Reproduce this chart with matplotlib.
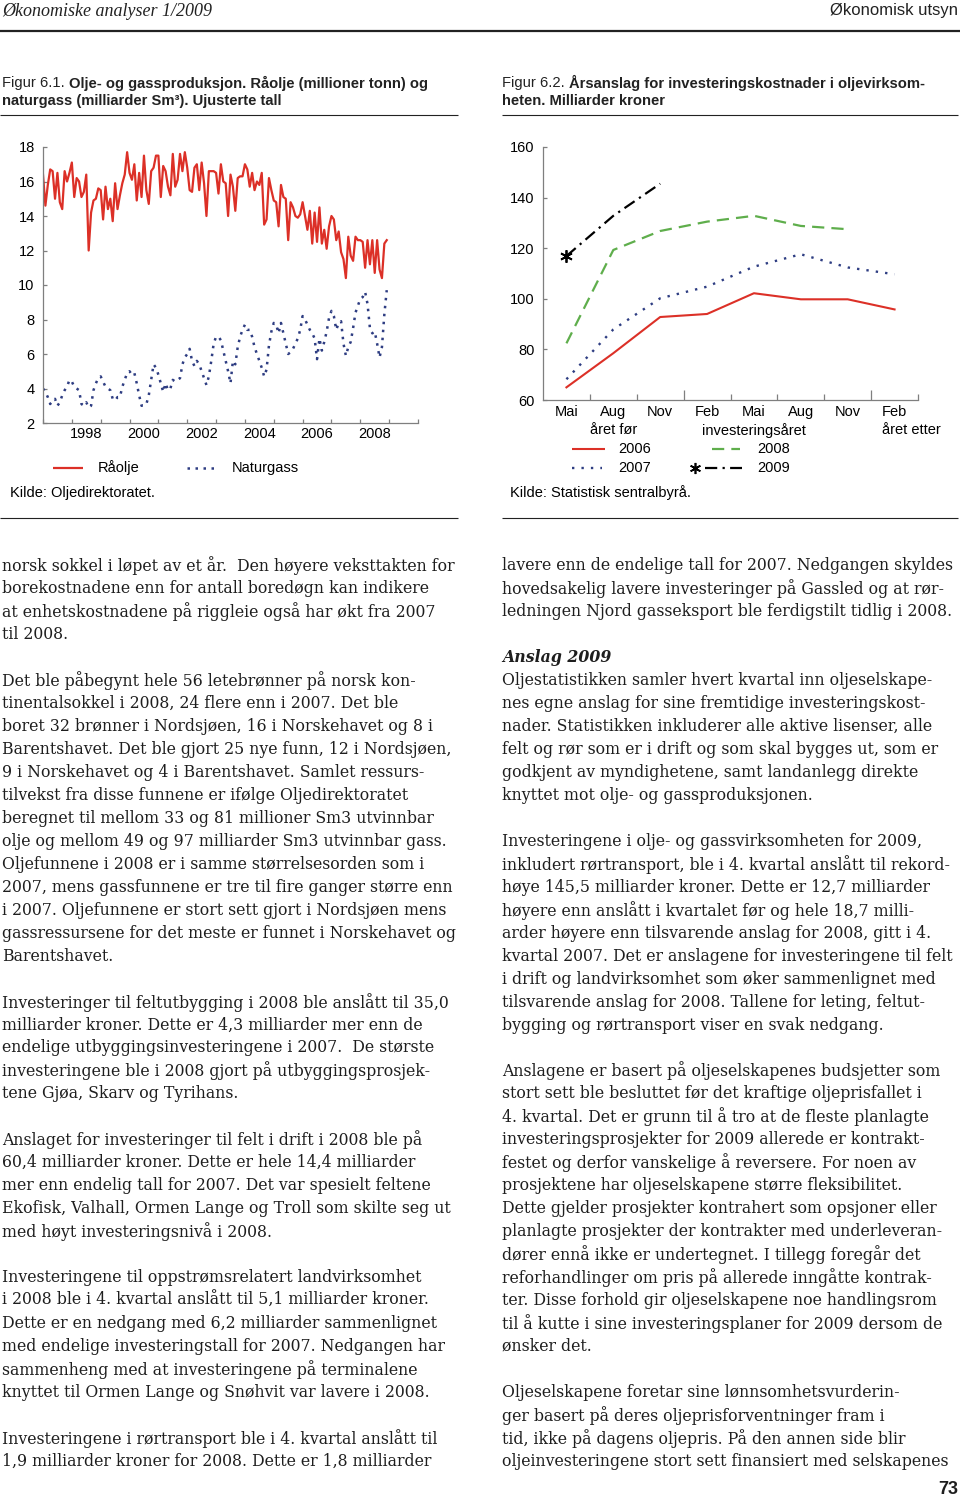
import matplotlib
matplotlib.use('Agg')
import matplotlib.pyplot as plt
from matplotlib.lines import Line2D
import numpy as np

# --- Figur 6.1: monthly production, Jan 1997 - Dec 2008 ---
# Råolje (million tonn), one row per year
raolje = [
    16.4, 14.6, 15.8, 16.7, 16.6, 15.0, 16.5, 14.8, 14.4, 16.6, 16.0, 16.5,  # 1997
    17.1, 15.1, 16.2, 16.0, 15.1, 15.4, 16.4, 12.0, 14.2, 14.9, 15.0, 15.6,  # 1998
    15.5, 13.8, 15.7, 14.4, 15.0, 13.7, 15.9, 14.4, 15.2, 15.9, 16.4, 17.7,  # 1999
    16.5, 16.1, 17.0, 14.9, 16.5, 15.1, 17.5, 15.5, 14.7, 16.6, 16.8, 17.5,  # 2000
    17.5, 15.1, 16.9, 16.6, 15.7, 15.2, 17.6, 15.7, 16.1, 17.6, 16.6, 17.7,  # 2001
    16.8, 15.5, 15.4, 16.8, 17.0, 15.5, 17.1, 15.9, 14.0, 16.6, 16.6, 16.6,  # 2002
    16.5, 15.3, 17.0, 16.0, 15.9, 14.0, 16.4, 15.7, 14.3, 16.2, 16.3, 16.3,  # 2003
    17.0, 16.7, 15.7, 16.5, 15.5, 16.0, 15.8, 16.5, 13.5, 13.8, 16.2, 15.5,  # 2004
    14.9, 14.8, 13.4, 15.8, 15.1, 15.0, 12.6, 14.8, 14.5, 14.0, 13.9, 14.1,  # 2005
    14.8, 14.0, 13.2, 14.3, 12.4, 14.2, 12.5, 14.5, 12.4, 13.2, 12.1, 13.4,  # 2006
    14.0, 13.8, 12.6, 13.1, 11.9, 11.5, 10.4, 12.8, 11.7, 11.4, 12.8, 12.6,  # 2007
    12.6, 12.5, 11.0, 12.6, 11.2, 12.6, 10.7, 12.6, 10.9, 10.4, 12.4, 12.6,  # 2008
]
# Naturgass (milliarder Sm3)
naturgass = [
    4.0, 3.8, 3.5, 3.1, 3.3, 3.4, 3.0, 3.2, 3.6, 3.9, 4.1, 4.5,  # 1997
    4.4, 4.1, 4.0, 3.9, 3.1, 3.0, 3.2, 2.9, 3.0, 3.9, 4.3, 4.6,  # 1998
    4.7, 4.4, 4.1, 4.0, 3.9, 3.4, 3.3, 3.5, 3.5, 4.1, 4.5, 4.9,  # 1999
    5.0, 4.8, 4.9, 4.3, 3.6, 3.0, 3.0, 3.1, 3.6, 4.5, 5.4, 5.2,  # 2000
    4.8, 4.3, 3.8, 4.3, 3.9, 4.0, 4.5, 4.4, 4.5, 4.6, 5.4, 5.8,  # 2001
    6.0, 6.3, 5.6, 5.3, 5.6, 5.4, 5.0, 4.6, 4.2, 4.7, 5.6, 6.6,  # 2002
    7.0, 7.0, 6.8, 6.2, 5.6, 5.0, 4.3, 5.6, 5.4, 6.4, 7.0, 7.4,  # 2003
    7.7, 7.4, 7.4, 7.0, 6.4, 6.0, 5.6, 5.2, 4.7, 5.1, 6.5, 7.3,  # 2004
    7.8, 7.7, 7.2, 7.8, 7.2, 6.6, 6.0, 6.1, 6.3, 6.6, 6.9, 7.4,  # 2005
    8.2, 8.0, 7.7, 7.4, 7.2, 6.9, 5.7, 6.9, 6.2, 6.7, 7.3, 8.1,  # 2006
    8.5, 8.2, 7.4, 7.8, 7.9, 6.6, 5.9, 6.4, 6.7, 7.5, 8.4, 8.8,  # 2007
    9.2, 9.3, 9.6, 8.9, 7.5, 7.2, 7.3, 6.6, 5.8, 6.4, 8.3, 9.7,  # 2008
]
start_year = 1997
year_labels = ['1998', '2000', '2002', '2004', '2006', '2008']

# --- Figur 6.2: investment estimates (milliarder kroner) ---
maaneder = ['Mai', 'Aug', 'Nov', 'Feb', 'Mai', 'Aug', 'Nov', 'Feb']
anslag_2006 = [65.0, 78.5, 92.8, 94.0, 102.2, 99.8, 99.8, 95.8]
anslag_2007 = [68.2, 87.9, 100.2, 104.8, 112.7, 117.6, 112.4, 109.7]
anslag_2008 = [82.4, 119.3, 126.8, 130.5, 132.8, 128.8, 127.5]
anslag_2009 = [116.9, 132.8, 145.5]

# --- body text ---
left_column = [
    "norsk sokkel i løpet av et år.  Den høyere veksttakten for",
    "borekostnadene enn for antall boredøgn kan indikere",
    "at enhetskostnadene på riggleie også har økt fra 2007",
    "til 2008.",
    "",
    "Det ble påbegynt hele 56 letebrønner på norsk kon-",
    "tinentalsokkel i 2008, 24 flere enn i 2007. Det ble",
    "boret 32 brønner i Nordsjøen, 16 i Norskehavet og 8 i",
    "Barentshavet. Det ble gjort 25 nye funn, 12 i Nordsjøen,",
    "9 i Norskehavet og 4 i Barentshavet. Samlet ressurs-",
    "tilvekst fra disse funnene er ifølge Oljedirektoratet",
    "beregnet til mellom 33 og 81 millioner Sm3 utvinnbar",
    "olje og mellom 49 og 97 milliarder Sm3 utvinnbar gass.",
    "Oljefunnene i 2008 er i samme størrelsesorden som i",
    "2007, mens gassfunnene er tre til fire ganger større enn",
    "i 2007. Oljefunnene er stort sett gjort i Nordsjøen mens",
    "gassressursene for det meste er funnet i Norskehavet og",
    "Barentshavet.",
    "",
    "Investeringer til feltutbygging i 2008 ble anslått til 35,0",
    "milliarder kroner. Dette er 4,3 milliarder mer enn de",
    "endelige utbyggingsinvesteringene i 2007.  De største",
    "investeringene ble i 2008 gjort på utbyggingsprosjek-",
    "tene Gjøa, Skarv og Tyrihans.",
    "",
    "Anslaget for investeringer til felt i drift i 2008 ble på",
    "60,4 milliarder kroner. Dette er hele 14,4 milliarder",
    "mer enn endelig tall for 2007. Det var spesielt feltene",
    "Ekofisk, Valhall, Ormen Lange og Troll som skilte seg ut",
    "med høyt investeringsnivå i 2008.",
    "",
    "Investeringene til oppstrømsrelatert landvirksomhet",
    "i 2008 ble i 4. kvartal anslått til 5,1 milliarder kroner.",
    "Dette er en nedgang med 6,2 milliarder sammenlignet",
    "med endelige investeringstall for 2007. Nedgangen har",
    "sammenheng med at investeringene på terminalene",
    "knyttet til Ormen Lange og Snøhvit var lavere i 2008.",
    "",
    "Investeringene i rørtransport ble i 4. kvartal anslått til",
    "1,9 milliarder kroner for 2008. Dette er 1,8 milliarder",
]
right_column = [
    "lavere enn de endelige tall for 2007. Nedgangen skyldes",
    "hovedsakelig lavere investeringer på Gassled og at rør-",
    "ledningen Njord gasseksport ble ferdigstilt tidlig i 2008.",
    "",
    "Anslag 2009",
    "Oljestatistikken samler hvert kvartal inn oljeselskape-",
    "nes egne anslag for sine fremtidige investeringskost-",
    "nader. Statistikken inkluderer alle aktive lisenser, alle",
    "felt og rør som er i drift og som skal bygges ut, som er",
    "godkjent av myndighetene, samt landanlegg direkte",
    "knyttet mot olje- og gassproduksjonen.",
    "",
    "Investeringene i olje- og gassvirksomheten for 2009,",
    "inkludert rørtransport, ble i 4. kvartal anslått til rekord-",
    "høye 145,5 milliarder kroner. Dette er 12,7 milliarder",
    "høyere enn anslått i kvartalet før og hele 18,7 milli-",
    "arder høyere enn tilsvarende anslag for 2008, gitt i 4.",
    "kvartal 2007. Det er anslagene for investeringene til felt",
    "i drift og landvirksomhet som øker sammenlignet med",
    "tilsvarende anslag for 2008. Tallene for leting, feltut-",
    "bygging og rørtransport viser en svak nedgang.",
    "",
    "Anslagene er basert på oljeselskapenes budsjetter som",
    "stort sett ble besluttet før det kraftige oljeprisfallet i",
    "4. kvartal. Det er grunn til å tro at de fleste planlagte",
    "investeringsprosjekter for 2009 allerede er kontrakt-",
    "festet og derfor vanskelige å reversere. For noen av",
    "prosjektene har oljeselskapene større fleksibilitet.",
    "Dette gjelder prosjekter kontrahert som opsjoner eller",
    "planlagte prosjekter der kontrakter med underleveran-",
    "dører ennå ikke er undertegnet. I tillegg foregår det",
    "reforhandlinger om pris på allerede inngåtte kontrak-",
    "ter. Disse forhold gir oljeselskapene noe handlingsrom",
    "til å kutte i sine investeringsplaner for 2009 dersom de",
    "ønsker det.",
    "",
    "Oljeselskapene foretar sine lønnsomhetsvurderin-",
    "ger basert på deres oljeprisforventninger fram i",
    "tid, ikke på dagens oljepris. På den annen side blir",
    "oljeinvesteringene stort sett finansiert med selskapenes",
]

W, H = 960, 1499
SANS = ['Liberation Sans', 'DejaVu Sans']
RED = '#dc3027'
NAVY = '#2e3d82'
GREEN = '#5fae4c'
AXC = '#7f7f7f'
GAS_LS = (0, (1, 2.2))
DOT_LS = (0, (1, 3.0))
DASH_LS = (0, (5.5, 3.2))
DASHDOT_LS = (0, (5.5, 2.4, 1, 2.4))


def fx(x):
    return x / W


def fy(y):
    return 1 - y / H


fig = plt.figure(figsize=(W / 100, H / 100), dpi=100)
renderer = fig.canvas.get_renderer()


def hline(x0, x1, y, lw=0.8, color='#222222', **kw):
    fig.add_artist(Line2D([fx(x0), fx(x1)], [fy(y), fy(y)], transform=fig.transFigure,
                          lw=lw, color=color, solid_capstyle='butt', **kw))


def text_width(txt, **kw):
    probe = fig.text(0, 0, txt, **kw)
    w = probe.get_window_extent(renderer).width
    probe.remove()
    return w


# --- page header ---
fig.text(fx(2), fy(11), 'Økonomiske analyser 1/2009', family='Liberation Serif',
         style='italic', size=13, va='center', ha='left', color='#222222')
fig.text(fx(958), fy(11), 'Økonomisk utsyn', family=SANS, size=12,
         va='center', ha='right', color='#222222')
hline(0, 960, 31, lw=1.6)

# --- captions ---
cap = dict(family=SANS, size=10.6, va='center', color='#222222')
for x0, lab, first, second in [
        (2, 'Figur 6.1. ', 'Olje- og gassproduksjon. Råolje (millioner tonn) og',
         'naturgass (milliarder Sm³). Ujusterte tall'),
        (502, 'Figur 6.2. ', 'Årsanslag for investeringskostnader i oljevirksom-',
         'heten. Milliarder kroner')]:
    fig.text(fx(x0), fy(83), lab, **cap)
    fig.text(fx(x0 + text_width(lab, **cap)), fy(83), first, weight='bold', **cap)
    fig.text(fx(x0), fy(101), second, weight='bold', **cap)
hline(0, 458, 115)
hline(502, 958, 115)

# --- Figur 6.1 ---
ax1 = fig.add_axes([fx(43), fy(423), 375 / W, 276 / H])
t = start_year + np.arange(len(raolje)) / 12
ax1.plot(t, raolje, color=RED, lw=1.6)
ax1.plot(t, naturgass, color=NAVY, lw=1.8, ls=GAS_LS)
ax1.set_xlim(1997, 2010)
ax1.set_ylim(2, 18)
ax1.set_yticks(range(2, 19, 2))
ax1.set_xticks(range(1997, 2011))
ax1.set_xticklabels([])
ax1.set_xticks([int(y) + 0.5 for y in year_labels], minor=True)
ax1.set_xticklabels(year_labels, minor=True)

# --- Figur 6.2 ---
ax2 = fig.add_axes([fx(543), fy(400), 375 / W, 253 / H])
x = np.arange(len(maaneder))
ax2.plot(x[:len(anslag_2006)], anslag_2006, color=RED, lw=1.5)
ax2.plot(x[:len(anslag_2007)], anslag_2007, color=NAVY, lw=1.7, ls=DOT_LS)
ax2.plot(x[:len(anslag_2008)], anslag_2008, color=GREEN, lw=1.6, ls=DASH_LS)
ax2.plot(x[:len(anslag_2009)], anslag_2009, color='black', lw=1.6, ls=DASHDOT_LS)
ax2.plot(x[0], anslag_2009[0], color='black', marker=(6, 2, 0), ms=9, mew=1.3)
ax2.set_xlim(-0.5, 7.5)
ax2.set_ylim(60, 160)
ax2.set_yticks(range(60, 161, 20))
ax2.set_xticks([2.5, 6.5])
ax2.set_xticklabels([])
ax2.set_xticks([0.5, 1.5, 3.5, 4.5, 5.5, 7.5], minor=True)
ax2.set_xticklabels([], minor=True)
for i, m in enumerate(maaneder):
    ax2.text(i, -0.02, m, transform=ax2.get_xaxis_transform(), ha='center', va='top',
             family=SANS, size=10.5)
for xpos, txt, ha in [(1, 'året før', 'center'), (4, 'investeringsåret', 'center'),
                      (6.74, 'året etter', 'left')]:
    ax2.text(xpos, -0.09, txt, transform=ax2.get_xaxis_transform(), ha=ha, va='top',
             family=SANS, size=10.5)

for ax in (ax1, ax2):
    for s in ('top', 'right'):
        ax.spines[s].set_visible(False)
    for s in ('left', 'bottom'):
        ax.spines[s].set_color(AXC)
        ax.spines[s].set_linewidth(0.9)
    ax.tick_params(which='both', direction='in', color=AXC, width=0.9, length=3,
                   labelsize=10.5, pad=6)
    for lab in ax.get_xticklabels(which='both') + ax.get_yticklabels():
        lab.set_family(SANS)
ax1.tick_params(axis='x', which='minor', length=0, pad=3)
ax2.tick_params(axis='x', which='major', length=7)
ax2.tick_params(axis='x', which='minor', length=4)

# legends drawn by hand as in the original
leg = dict(family=SANS, size=10.5, va='center')
hline(53, 83, 468, lw=1.6, color=RED)
fig.text(fx(98), fy(468), 'Råolje', **leg)
hline(187, 214, 468, lw=1.8, color=NAVY, ls=GAS_LS)
fig.text(fx(232), fy(468), 'Naturgass', **leg)
fig.text(fx(10), fy(493), 'Kilde: Oljedirektoratet.', **leg)

hline(572, 605, 449, lw=1.5, color=RED)
fig.text(fx(618), fy(449), '2006', **leg)
hline(572, 602, 468, lw=1.7, color=NAVY, ls=DOT_LS)
fig.text(fx(618), fy(468), '2007', **leg)
hline(712, 740, 449, lw=1.6, color=GREEN, ls=DASH_LS)
fig.text(fx(757), fy(449), '2008', **leg)
hline(705, 742, 468, lw=1.6, color='black', ls=DASHDOT_LS)
fig.add_artist(Line2D([fx(695)], [fy(468)], transform=fig.transFigure, color='black',
                      marker=(6, 2, 0), ms=8, mew=1.2))
fig.text(fx(757), fy(468), '2009', **leg)
fig.text(fx(510), fy(493), 'Kilde: Statistisk sentralbyrå.', **leg)

hline(0, 458, 518)
hline(502, 958, 518)

# --- body text, sized so the first line matches the original width ---
BODY = 'DejaVu Serif'
body_size = 10 * 456 / text_width(left_column[0], family=BODY, size=10)

y0, step = 566, 22.95
for col_x, lines in ((2, left_column), (502, right_column)):
    for i, line in enumerate(lines):
        if not line:
            continue
        kw = dict(family=BODY, size=body_size, va='center', ha='left', color='#1e1e1e')
        if line == 'Anslag 2009':
            kw.update(weight='bold', style='italic')
        fig.text(fx(col_x), fy(y0 + i * step), line, **kw)

fig.text(fx(958), fy(1489), '73', family=SANS, weight='bold', size=13,
         ha='right', va='center', color='#1e1e1e')

fig.savefig('out.png', dpi=100)
